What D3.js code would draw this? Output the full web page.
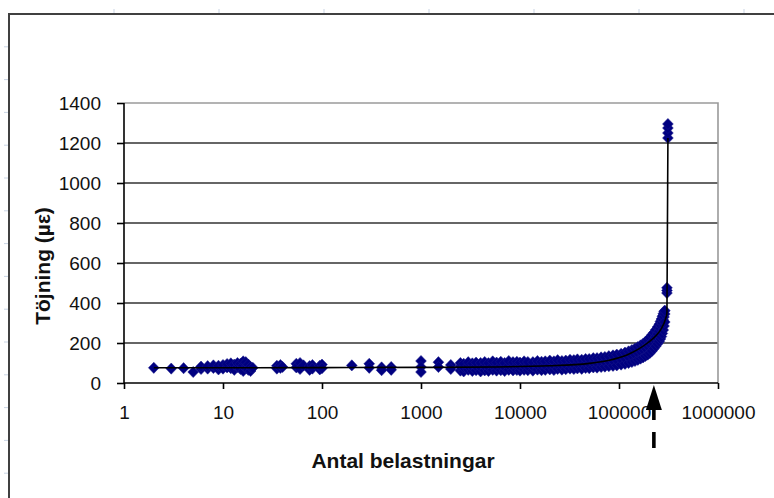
<!DOCTYPE html>
<html><head><meta charset="utf-8">
<script src="https://cdnjs.cloudflare.com/ajax/libs/d3/7.8.5/d3.min.js"></script>
<style>html,body{margin:0;padding:0;background:#fff;} svg{display:block;}</style>
</head><body><div id="chart"></div>
<script>
// ---- tick labels ----
const xTicks = [1, 10, 100, 1000, 10000, 100000, 1000000];
const yTicks = [0, 200, 400, 600, 800, 1000, 1200, 1400];
const xTitle = "Antal belastningar";
const yTitle = "Töjning (µε)";

// ---- measured points, low load counts ----
const lowN = [2, 3, 4, 5, 6, 6, 7, 7, 8, 8, 9, 9, 10, 10, 11, 11, 12, 12, 13, 13, 14, 14, 15, 15, 16, 16, 16, 17, 17, 18, 18, 19, 19, 20,
  35, 35, 38, 38, 40, 55, 55, 60, 60, 65, 75, 75, 80, 80, 95, 95, 100, 100,
  200, 300, 300, 400, 400, 500, 500, 1000, 1000, 1000, 1500, 1500, 2000, 2000];
const lowE = [76, 72, 74, 55, 70, 82, 72, 84, 75, 88, 68, 86, 72, 90, 78, 95, 74, 98, 66, 92, 80, 100, 70, 96, 60, 88, 108, 74, 104, 66, 92, 60, 80, 76,
  86, 72, 90, 76, 80, 96, 78, 100, 70, 88, 84, 66, 90, 72, 86, 68, 92, 74,
  88, 96, 76, 78, 64, 80, 66, 110, 80, 55, 104, 80, 90, 70];

// ---- measured points, dense band ----
const bandN = [2500, 2700, 3000, 3300, 3600, 4000, 4400, 4800, 5300, 5800, 6400, 7000, 7700, 8500, 9300, 10000, 11000, 12000, 13500, 15000,
  16500, 18000, 20000, 22000, 24000, 26500, 29000, 32000, 35000, 38000, 42000, 46000, 50000, 55000, 60000, 66000, 72000, 79000, 87000, 95000,
  105000, 115000, 125000, 135000, 145000, 155000, 165000, 175000, 185000, 195000, 205000, 215000, 225000, 235000, 245000, 255000, 262000, 268000,
  274000, 280000, 285000, 290000];
const bandLow = [62, 58, 66, 60, 64, 58, 63, 60, 66, 62, 64, 60, 66, 63, 65, 62, 66, 64, 62, 67,
  64, 66, 68, 65, 70, 67, 69, 72, 70, 73, 71, 75, 74, 78, 77, 80, 82, 84, 86, 88,
  92, 96, 100, 105, 110, 116, 122, 128, 135, 142, 150, 160, 172, 184, 196, 208, 220, 232,
  248, 265, 285, 305];
const bandMid = [82, 78, 86, 80, 84, 79, 85, 81, 88, 83, 86, 80, 88, 84, 86, 82, 88, 85, 83, 89,
  86, 88, 90, 87, 92, 89, 91, 94, 92, 96, 94, 98, 97, 101, 100, 104, 106, 109, 112, 115,
  119, 124, 130, 136, 142, 150, 158, 166, 175, 185, 195, 206, 218, 230, 244, 258, 272, 286,
  300, 315, 330, 345];
const bandHigh = [100, 96, 104, 98, 102, 100, 105, 99, 108, 102, 106, 100, 110, 104, 106, 102, 108, 105, 104, 110,
  106, 108, 112, 108, 114, 110, 112, 116, 114, 118, 116, 120, 120, 124, 124, 128, 130, 134, 138, 142,
  146, 152, 158, 165, 172, 180, 188, 196, 206, 216, 228, 240, 252, 266, 280, 294, 308, 320,
  334, 346, 356, 362];

// ---- measured points, failure ----
const failN = [305000, 305000, 305000, 312000, 312000, 312000, 312000];
const failE = [450, 463, 476, 1225, 1250, 1275, 1295];

// ---- mean curve ----
const lineN = [2, 100, 1000, 5000, 20000, 50000, 80000, 120000, 160000, 200000, 240000, 270000, 295000, 305000, 312000];
const lineE = [76, 77, 78, 80, 86, 98, 114, 140, 172, 205, 240, 275, 320, 350, 1225];

// ---- annotation ----
const arrowN = 225000;

// ---------------------------------------------------------------
const W = 774, H = 498;
const svg = d3.select("#chart").append("svg").attr("width", W).attr("height", H);
const x = d3.scaleLog().domain([1, 1e6]).range([124, 718]);
const y = d3.scaleLinear().domain([0, 1400]).range([383, 103]);
const font = "'Liberation Sans', Arial, sans-serif";

// spreadsheet cell stubs
const stub = svg.append("g").attr("stroke", "#c9d4e4").attr("stroke-width", 1);
d3.range(114, W, 105).forEach(px => stub.append("line").attr("x1", px).attr("x2", px).attr("y1", 9).attr("y2", 14));
d3.range(46.8, H, 32.8).forEach(py => stub.append("line").attr("x1", 4).attr("x2", 9).attr("y1", py).attr("y2", py));

// outer chart frame
svg.append("path").attr("d", `M9,${H}V14H${W}`).attr("fill", "none").attr("stroke", "#404040").attr("stroke-width", 2);

// gridlines
svg.append("g").selectAll("line").data(yTicks.filter(d => d > 0 && d < 1400)).join("line")
  .attr("x1", x(1)).attr("x2", x(1e6)).attr("y1", d => y(d)).attr("y2", d => y(d))
  .attr("stroke", "#333").attr("stroke-width", 1.6);

// plot area top / right border
svg.append("path").attr("d", `M${x(1)},${y(1400)}H${x(1e6)}V${y(0)}`).attr("fill", "none")
  .attr("stroke", "#9a9a9a").attr("stroke-width", 1.6);

// axes
const xAxis = d3.axisBottom(x).tickValues(xTicks).tickFormat(d3.format("d")).tickSize(6).tickPadding(17);
const gx = svg.append("g").attr("transform", `translate(0,${y(0)})`).call(xAxis);
const yAxis = d3.axisLeft(y).tickValues(yTicks).tickFormat(d3.format("d")).tickSize(7).tickPadding(16);
const gy = svg.append("g").attr("transform", `translate(${x(1)},0)`).call(yAxis);
[gx, gy].forEach(g => {
  g.select(".domain").attr("stroke", "#000").attr("stroke-width", 1.6);
  g.selectAll(".tick line").attr("stroke", "#000").attr("stroke-width", 1.6);
  g.selectAll(".tick text").attr("font-family", font).attr("font-size", 19).attr("fill", "#111");
});
gy.select(".domain").attr("d", `M0,${y(0)}V${y(1400)}`);
gx.select(".domain").attr("d", `M${x(1)},0H${x(1e6)}`);

// markers
const pts = [];
lowN.forEach((n, i) => pts.push([n, lowE[i]]));
bandN.forEach((n, i) => { pts.push([n, bandLow[i]]); pts.push([n, bandMid[i]]); pts.push([n, bandHigh[i]]); });
failN.forEach((n, i) => pts.push([n, failE[i]]));
svg.append("g").selectAll("path").data(pts).join("path")
  .attr("d", "M0,-5.6L5.4,0L0,5.6L-5.4,0Z")
  .attr("transform", d => `translate(${x(d[0])},${y(d[1])})`)
  .attr("fill", "#000080").attr("stroke", "#1a1a8c").attr("stroke-width", 1).attr("stroke-opacity", 0.5);

// mean line
svg.append("path").datum(lineN.map((n, i) => [n, lineE[i]]))
  .attr("d", d3.line().x(d => x(d[0])).y(d => y(d[1])).curve(d3.curveMonotoneX))
  .attr("fill", "none").attr("stroke", "#000").attr("stroke-width", 1.6);

// arrow annotation
const ax = x(arrowN);
svg.append("path").attr("d", `M${ax},385L${ax + 8},410L${ax - 8},410Z`).attr("fill", "#000");
svg.append("line").attr("x1", ax).attr("x2", ax).attr("y1", 409).attr("y2", 420).attr("stroke", "#000").attr("stroke-width", 3.6);
svg.append("line").attr("x1", ax).attr("x2", ax).attr("y1", 432).attr("y2", 448).attr("stroke", "#000").attr("stroke-width", 3.6);

// titles
svg.append("text").attr("x", 403).attr("y", 468).attr("text-anchor", "middle")
  .attr("font-family", font).attr("font-size", 21).attr("font-weight", "bold").attr("fill", "#111").text(xTitle);
svg.append("text").attr("transform", "translate(50,266) rotate(-90)").attr("text-anchor", "middle")
  .attr("font-family", font).attr("font-size", 21).attr("font-weight", "bold").attr("fill", "#111").text(yTitle);
</script></body></html>
